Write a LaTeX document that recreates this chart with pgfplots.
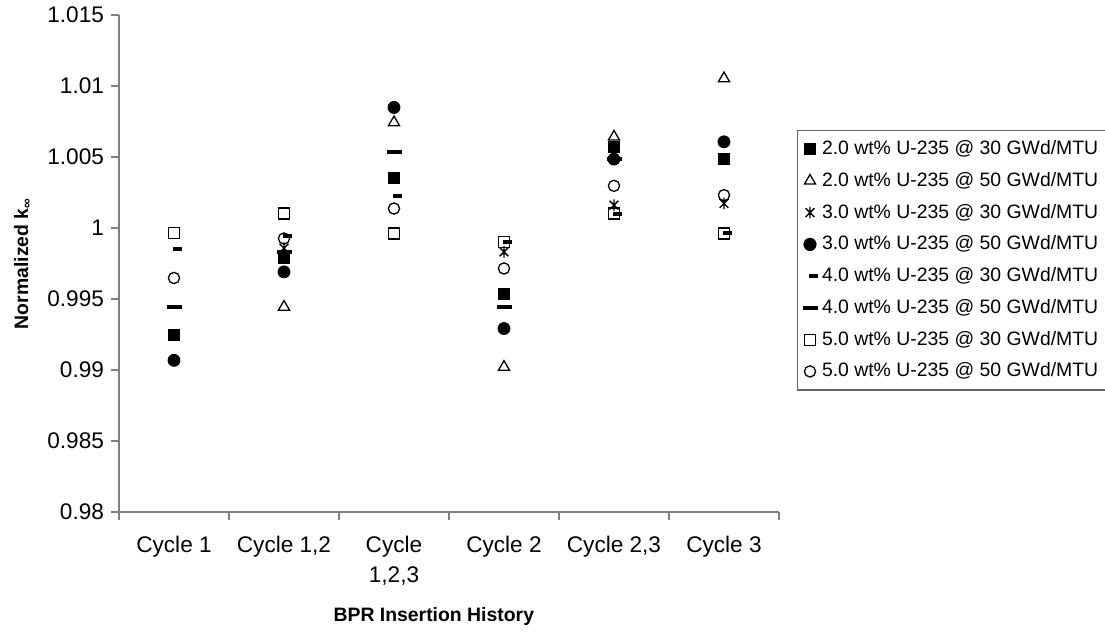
\documentclass[border=0pt]{standalone}
\usepackage{fontspec}
\setmainfont{Liberation Sans}
\usepackage{pgfplots}
\pgfplotsset{compat=1.18}
\newcommand\fs{\fontsize{9.7}{11.6}\selectfont}
\newcommand\ft{\fontsize{11.3}{15}\selectfont}
\pgfdeclareplotmark{sdash}{\pgfpathrectangle{\pgfqpoint{-0.6pt}{-1pt}}{\pgfqpoint{4.6pt}{2pt}}\pgfusepathqfill}
\pgfdeclareplotmark{ldash}{\pgfpathrectangle{\pgfqpoint{-3.3pt}{-1.05pt}}{\pgfqpoint{7.2pt}{2.1pt}}\pgfusepathqfill}
\pgfdeclareplotmark{xstar}{%
  \pgfpathmoveto{\pgfqpoint{0pt}{-\pgfplotmarksize}}\pgfpathlineto{\pgfqpoint{0pt}{\pgfplotmarksize}}%
  \pgfpathmoveto{\pgfqpoint{-0.75\pgfplotmarksize}{-0.75\pgfplotmarksize}}\pgfpathlineto{\pgfqpoint{0.75\pgfplotmarksize}{0.75\pgfplotmarksize}}%
  \pgfpathmoveto{\pgfqpoint{-0.75\pgfplotmarksize}{0.75\pgfplotmarksize}}\pgfpathlineto{\pgfqpoint{0.75\pgfplotmarksize}{-0.75\pgfplotmarksize}}%
  \pgfusepathqstroke}
\begin{document}
\begin{tikzpicture}
\useasboundingbox (-59.5pt,-60pt) rectangle (493pt,256pt);
\begin{axis}[
  at={(0pt,0pt)}, anchor=south west,
  scale only axis, width=330pt, height=248.5pt,
  xmin=-0.5, xmax=5.5, ymin=0.98, ymax=1.015,
  axis x line*=bottom, axis y line*=left,
  axis line style={draw=black!50, line width=0.6pt},
  tick align=outside, major tick length=4pt,
  tick style={draw=black!50, line width=0.6pt},
  xtick={-0.5,0.5,1.5,2.5,3.5,4.5,5.5}, x tick label as interval,
  xticklabels={{Cycle 1},{Cycle 1,2},{Cycle\\1,2,3},{Cycle 2},{Cycle 2,3},{Cycle 3}},
  xticklabel style={align=center, font=\ft, yshift=-4.5pt},
  ytick={0.98,0.985,0.99,0.995,1,1.005,1.01,1.015},
  yticklabels={0.98,0.985,0.99,0.995,1,1.005,1.01,1.015},
  yticklabel style={font=\ft},
  scaled y ticks=false,
  xlabel={BPR Insertion History},
  xlabel style={at={(axis description cs:0.477,-0.211)}, anchor=center, font=\fs\bfseries},
  ylabel={Normalized k\textsubscript{∞}},
  ylabel style={at={(axis description cs:-0.146,0.5)}, anchor=center, font=\fs\bfseries},
  legend style={at={(1.027,0.7686)}, anchor=north west, draw=black!60, line width=0.6pt,
    font=\fs, row sep=3.35pt, inner sep=3pt},
  legend cell align=left,
  legend image code/.code={\draw[mark repeat=2,mark phase=2,#1] plot coordinates {(0pt,0pt)(4pt,0pt)(8pt,0pt)};},
]
\addplot[only marks, mark=square*, mark size=2.75pt, black, mark options={fill=black}]
  coordinates {(0,0.99245)(1,0.99787)(2,1.00356)(3,0.99538)(4,1.00571)(5,1.00485)};
\addlegendentry{2.0 wt\% U-235 @ 30 GWd/MTU}
\addplot[only marks, mark=triangle, mark size=3.2pt, black, line width=0.65pt, mark options={fill=white}]
  coordinates {(1,0.99444)(2,1.00743)(3,0.99021)(4,1.00642)(5,1.01053)};
\addlegendentry{2.0 wt\% U-235 @ 50 GWd/MTU}
\addplot[only marks, mark=xstar, mark size=2.9pt, black, line width=0.65pt]
  coordinates {(1,0.99858)(3,0.99832)(4,1.00161)(5,1.00173)};
\addlegendentry{3.0 wt\% U-235 @ 30 GWd/MTU}
\addplot[only marks, mark=*, mark size=3pt, black, mark options={fill=black}]
  coordinates {(0,0.99068)(1,0.99691)(2,1.00849)(3,0.99292)(4,1.00485)(5,1.00607)};
\addlegendentry{3.0 wt\% U-235 @ 50 GWd/MTU}
\addplot[only marks, mark=sdash, black]
  coordinates {(0,0.99851)(1,0.99942)(2,1.00224)(3,0.99900)(4,1.00102)(5,0.99963)};
\addlegendentry{4.0 wt\% U-235 @ 30 GWd/MTU}
\addplot[only marks, mark=ldash, black]
  coordinates {(0,0.99444)(1,0.99829)(2,1.00536)(3,0.99444)(4,1.00485)};
\addlegendentry{4.0 wt\% U-235 @ 50 GWd/MTU}
\addplot[only marks, mark=square, mark size=2.75pt, black, line width=0.65pt, mark options={fill=white}]
  coordinates {(0,0.99965)(1,1.00102)(2,0.99961)(3,0.99902)(4,1.00102)(5,0.99961)};
\addlegendentry{5.0 wt\% U-235 @ 30 GWd/MTU}
\addplot[only marks, mark=o, mark size=2.8pt, black, line width=0.65pt, mark options={fill=white}]
  coordinates {(0,0.99648)(1,0.99926)(2,1.00137)(3,0.99715)(4,1.00297)(5,1.00231)};
\addlegendentry{5.0 wt\% U-235 @ 50 GWd/MTU}
\end{axis}
\end{tikzpicture}
\end{document}
